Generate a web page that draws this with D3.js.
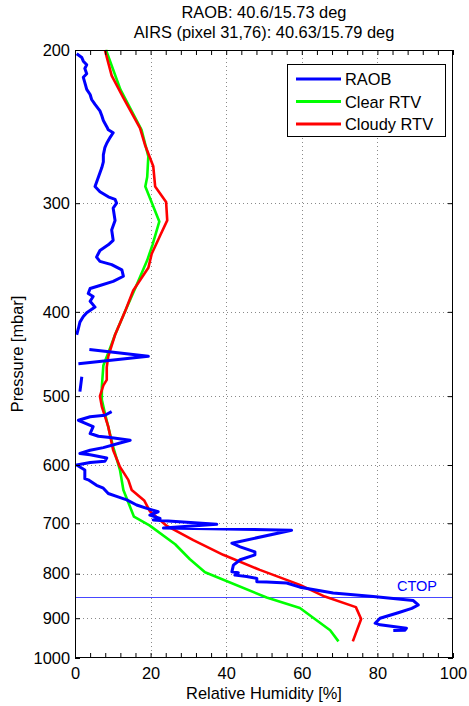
<!DOCTYPE html>
<html>
<head>
<meta charset="utf-8">
<script src="https://cdn.jsdelivr.net/npm/d3@7"></script>
<style>
  html, body { margin: 0; padding: 0; background: #fff; }
  svg { display: block; font-family: "Liberation Sans", Arial, Helvetica, sans-serif; }
</style>
</head>
<body>
<svg id="chart" width="469" height="706"></svg>
<script>
// ---------------- data ----------------
const titleLines = ["RAOB: 40.6/15.73 deg", "AIRS (pixel 31,76): 40.63/15.79 deg"];
const xTicks = [0, 20, 40, 60, 80, 100];
const yTicks = [200, 300, 400, 500, 600, 700, 800, 900, 1000];
const seriesNames = ["RAOB", "Clear RTV", "Cloudy RTV"];
const seriesColors = ["#0000ff", "#00ff00", "#ff0000"];
const ctopPressure = 850;

// RAOB: [RH %, pressure mbar]; null = gap in sounding
const raob = [
  [0.45,202],[1.8,204],[2.2,206],[3.1,208],[2.6,210],[3.1,213],[2.2,215],[2.6,218],[3.1,222],[4.0,225],
  [4.4,228],[5.3,231],[6.6,235],[7.1,238],[7.5,241],[8.4,245],[8.8,247],[10.1,249],[9.3,252],[8.4,256],
  [7.9,259],[7.5,264],[7.5,269],[7.1,273],[6.2,280],[5.3,287],[6.6,291],[8.8,295],[10.6,297],[11.0,300],
  [10.1,304],[10.6,314],[9.7,322],[10.1,331],[8.8,335],[6.6,340],[5.7,346],[6.6,350],[9.7,353],[12.4,358],
  [12.8,364],[10.1,369],[6.6,373],[4.0,376],[3.5,381],[4.8,384],[4.0,389],[5.3,395],[3.1,401],[2.2,405],
  [1.3,411],[0.9,418],[0.45,425],
  null,
  [3.8,442],[19.4,450],[0.9,459],
  null,
  [1.8,475],[1.3,494],
  null,
  [9.7,521],[7.9,526],[4.0,528],[0.9,533],[4.8,542],[4.0,552],[6.2,556],[9.3,558],[14.6,562],[11.9,566],
  [7.5,573],[4.0,577],[1.3,582],[4.0,584],[8.4,589],[7.9,594],[4.0,596],[0.45,600],[2.6,608],[2.6,622],
  [3.5,624],[5.7,633],[7.5,638],[8.8,647],[11.0,652],[13.7,658],[16.3,667],[19.0,673],[22.0,679],[19.8,685],
  [22.5,691],[20.7,694],[37.5,702],[23.4,709],[57.3,713],[41.5,738],[43.7,745],[47.6,755],[47.6,761],[43.7,771],
  [41.9,782],[41.5,796],[43.2,798],[42.3,803],[45.4,806],[48.1,810],[48.1,817],[50.7,818],[56.0,820],[59.5,829],
  [68.3,842],[78.9,850],[89.5,859],[90.8,869],[89.1,877],[85.5,887],[80.7,900],[79.4,912],[80.7,916],[87.7,924],
  [87.3,929],[84.2,930]
];

const clearRTV = [
  [8.2,200],[12.0,222],[17.6,247],[19.4,265],[19.1,280],[18.6,287],[22.3,315],[20.5,335],[19.1,349],[15.9,376],
  [13.2,400],[10.6,425],[9.3,440],[7.5,461],[7.1,488],[7.1,505],[7.9,523],[10.1,572],[11.9,608],[12.8,641],
  [15.6,688],[19.7,704],[26.5,740],[30.4,770],[34.4,797],[50.7,852],[59.5,876],[67.5,929],[69.7,957]
];

const cloudyRTV = [
  [7.9,200],[9.7,214],[12.8,227],[17.2,246],[18.5,257],[20.7,272],[21.2,287],[24.1,299],[24.4,314],[22.5,327],
  [20.3,343],[19.4,356],[15.4,378],[13.2,400],[10.6,425],[8.8,450],[8.4,463],[8.4,479],[7.5,486],[6.6,500],
  [7.1,514],[8.8,542],[10.1,577],[11.9,603],[14.1,624],[15.0,641],[18.3,659],[19.8,678],[24.3,705],[31.3,732],
  [39.2,761],[48.9,792],[59.5,824],[66.1,850],[74.3,874],[75.7,902],[73.5,957]
];

// ---------------- drawing ----------------
const svg = d3.select("#chart");
const L = 75, R = 453, T = 50, B = 658;
const x = d3.scaleLinear().domain([0, 100]).range([L, R]);
const y = d3.scaleLog().domain([200, 1000]).range([T, B]);
const FS = 16.4;

// title
svg.selectAll("text.title").data(titleLines).join("text")
  .attr("class", "title")
  .attr("x", (L + R) / 2).attr("y", (d, i) => 18 + i * 20)
  .attr("text-anchor", "middle").attr("font-size", FS).text(d => d);

// white plot background
svg.append("rect").attr("x", L).attr("y", T).attr("width", R - L).attr("height", B - T).attr("fill", "#fff");

// grid
const grid = svg.append("g").attr("stroke", "#8a8a8a").attr("stroke-width", 1).attr("stroke-dasharray", "1,3");
grid.selectAll("line.gx").data(xTicks.filter(d => d > 0 && d < 100)).join("line")
  .attr("x1", d => Math.round(x(d)) + 0.5).attr("x2", d => Math.round(x(d)) + 0.5)
  .attr("y1", T).attr("y2", B);
grid.selectAll("line.gy").data(yTicks.filter(d => d > 200 && d < 1000)).join("line")
  .attr("y1", d => Math.round(y(d)) + 0.5).attr("y2", d => Math.round(y(d)) + 0.5)
  .attr("x1", L).attr("x2", R);

// CTOP line
const yC = Math.round(y(ctopPressure));
svg.append("rect")
  .attr("x", L).attr("y", yC).attr("width", R - L).attr("height", 1)
  .attr("fill", "#4848ff").attr("shape-rendering", "crispEdges");
svg.append("text").attr("x", 397).attr("y", yC - 6)
  .attr("fill", "#0000ff").attr("font-size", 14.5).text("CTOP");

// lines
const line = d3.line()
  .defined(d => d !== null)
  .x(d => x(d[0])).y(d => y(d[1]));

const plot = svg.append("g");
plot.append("path").datum(clearRTV).attr("d", line)
  .attr("fill", "none").attr("stroke", seriesColors[1]).attr("stroke-width", 2.6).attr("stroke-linejoin", "round");
plot.append("path").datum(cloudyRTV).attr("d", line)
  .attr("fill", "none").attr("stroke", seriesColors[2]).attr("stroke-width", 2.6).attr("stroke-linejoin", "round");
plot.append("path").datum(raob).attr("d", line)
  .attr("fill", "none").attr("stroke", seriesColors[0]).attr("stroke-width", 3).attr("stroke-linejoin", "round");

// axes
const minorX = d3.range(0, 101, 4);
const axB = d3.axisBottom(x).tickValues(minorX).tickSizeInner(-5).tickSizeOuter(0)
  .tickFormat(d => xTicks.includes(d) ? d : "").tickPadding(9);
const axT = d3.axisTop(x).tickValues(minorX).tickSizeInner(-5).tickSizeOuter(0).tickFormat("");
const axL = d3.axisLeft(y).tickValues(yTicks).tickSizeInner(-5).tickSizeOuter(0)
  .tickFormat(d3.format("d")).tickPadding(5);
const axR = d3.axisRight(y).tickValues(yTicks).tickSizeInner(-5).tickSizeOuter(0).tickFormat("");

function styleAxis(g) {
  g.select(".domain").remove();
  g.selectAll(".tick line").attr("stroke", "#000");
  g.selectAll(".tick text").attr("font-size", FS).attr("fill", "#000")
    .attr("font-family", "'Liberation Sans', Arial, sans-serif");
}
svg.append("g").attr("transform", `translate(0,${B})`).call(axB).call(styleAxis);
svg.append("g").attr("transform", `translate(0,${T})`).call(axT).call(styleAxis);
svg.append("g").attr("transform", `translate(${L},0)`).call(axL).call(styleAxis);
svg.append("g").attr("transform", `translate(${R},0)`).call(axR).call(styleAxis);

// box
svg.append("rect").attr("x", L + 0.5).attr("y", T + 0.5).attr("width", R - L - 1).attr("height", B - T - 1)
  .attr("fill", "none").attr("stroke", "#000").attr("stroke-width", 1);

// axis labels
svg.append("text").attr("x", (L + R) / 2).attr("y", 699).attr("text-anchor", "middle")
  .attr("font-size", FS).text("Relative Humidity [%]");
svg.append("text").attr("transform", `translate(23,${(T + B) / 2}) rotate(-90)`)
  .attr("text-anchor", "middle").attr("font-size", FS).text("Pressure [mbar]");

// legend
const lg = svg.append("g");
lg.append("rect").attr("x", 287.5).attr("y", 64.5).attr("width", 158).attr("height", 72)
  .attr("fill", "#fff").attr("stroke", "#000").attr("stroke-width", 1);
const items = lg.selectAll("g.item").data(seriesNames).join("g").attr("class", "item")
  .attr("transform", (d, i) => `translate(0,${79 + i * 22.5})`);
items.append("line").attr("x1", 296).attr("x2", 341).attr("y1", 0).attr("y2", 0)
  .attr("stroke", (d, i) => seriesColors[i]).attr("stroke-width", 3);
items.append("text").attr("x", 345).attr("y", 6).attr("font-size", FS).text(d => d);
</script>
</body>
</html>
